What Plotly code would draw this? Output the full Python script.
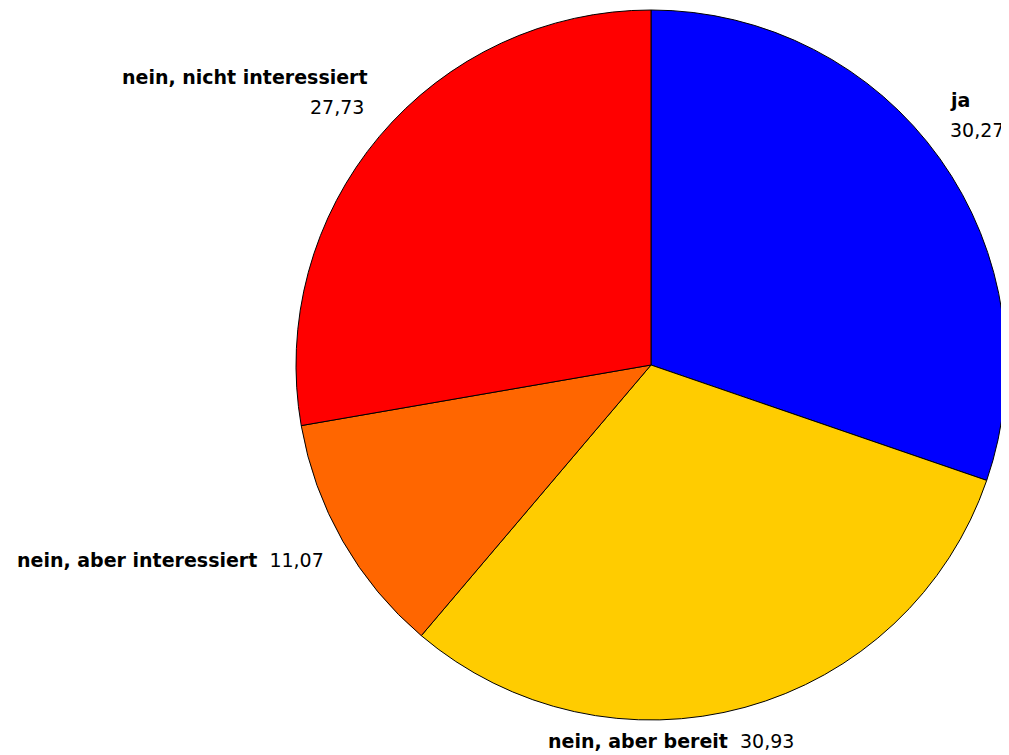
import plotly.graph_objects as go

categories = ["ja", "nein, aber bereit", "nein, aber interessiert", "nein, nicht interessiert"]
values = [30.27, 30.93, 11.07, 27.73]
value_labels = ["30,27", "30,93", "11,07", "27,73"]
colors = ["#0000FF", "#FFCC00", "#FF6600", "#FF0000"]

OFF = 8  # page body margin
W, H = 1009 - OFF, 755 - OFF
cx, cy, r = 651 - OFF, 365 - OFF, 355

fig = go.Figure()
fig.add_trace(go.Pie(
    labels=categories, values=values, sort=False, direction="clockwise", rotation=0,
    marker=dict(colors=colors, line=dict(color="black", width=1)),
    textinfo="none", hoverinfo="label+value", showlegend=False,
    domain=dict(x=[(cx - r) / W, (cx + r) / W], y=[(H - cy - r) / H, (H - cy + r) / H]),
))

bold = dict(family="DejaVu Sans", size=19, color="black")


def label(text, x, y, anchor):
    fig.add_annotation(x=(x - OFF) / W, y=1 - (y - OFF) / H, xref="paper", yref="paper",
                       xanchor=anchor, yanchor="middle", showarrow=False,
                       text=text, font=bold)


# label positions in window pixels
label(f"<b>{categories[0]}</b>", 948, 100, "left")
label(value_labels[0], 948, 130, "left")
label(f"<b>{categories[3]}</b>", 370, 77, "right")
label(value_labels[3], 366, 107, "right")
label(f"<b>{categories[2]}</b>  {value_labels[2]}", 15, 560, "left")
label(f"<b>{categories[1]}</b>  {value_labels[1]}", 546, 741, "left")

fig.update_layout(width=W, height=H, margin=dict(l=0, r=0, t=0, b=0),
                  paper_bgcolor="white", plot_bgcolor="white")
fig.write_html("out.html")
